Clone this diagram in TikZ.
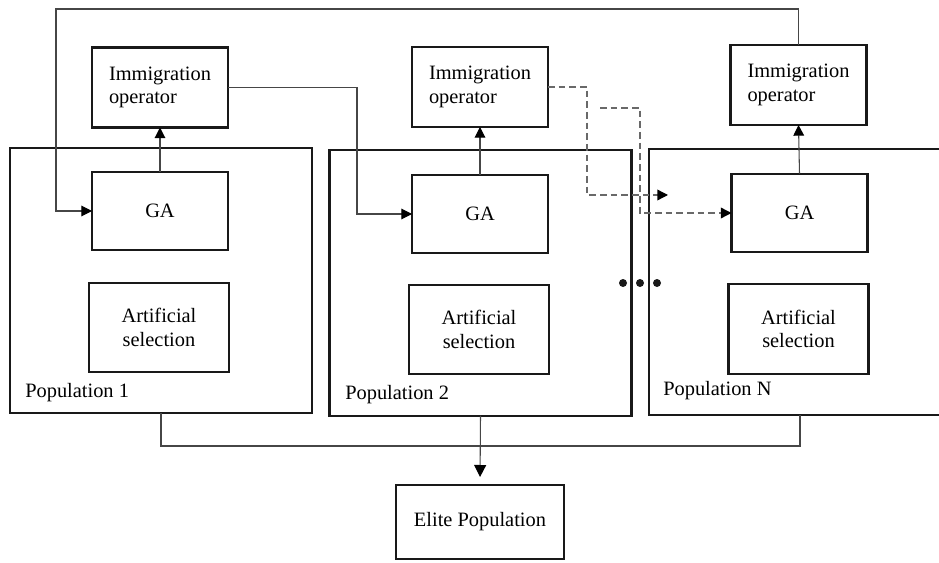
\documentclass[tikz,border=0pt]{standalone}
\usepackage{fontspec}
\setmainfont{Liberation Serif}
\usetikzlibrary{arrows.meta}
\definecolor{wire}{RGB}{70, 70, 70}
\definecolor{dashwire}{RGB}{105, 105, 105}
\definecolor{boxline}{RGB}{25, 25, 25}

\begin{document}
\begin{tikzpicture}[x=0.75pt, y=-0.75pt,
    every node/.style={font=\fontsize{15.3pt}{17.5pt}\selectfont},
    block/.style={draw=boxline, line width=1.7pt, inner sep=0pt, outer sep=0pt},
    opbox/.style={block, minimum width=102pt, minimum height=60pt, align=left},
    gabox/.style={block, minimum width=102pt, minimum height=59pt},
    selbox/.style={block, minimum width=105pt, minimum height=67pt, align=center},
    popbox/.style={block, minimum width=226.5pt, minimum height=199pt},
    poplabel/.style={anchor=base west, inner sep=0pt},
    link/.style={draw=wire, line width=0.8pt},
    arrow/.style={link, -{Triangle[length=8pt, width=8pt, color=black]}},
    dlink/.style={draw=dashwire, line width=1pt, dash pattern=on 5pt off 3pt, -{Triangle[length=8pt, width=8pt, color=black]}}]
            \useasboundingbox (0,0) rectangle (939,563);
            % populations
            \node[popbox]   (pop1) at (161.0, 280.5) {};
            \node[popbox]   (pop2) at (480.5, 283.0) {};
            \node[popbox]   (popN) at (800.0, 282.0) {};
            \node[poplabel] (lab1) at ( 25, 397) {Population 1};
            \node[poplabel] (lab2) at (345, 399) {Population 2};
            \node[poplabel] (labN) at (663, 395) {Population N};
            % operators
            \node[opbox]    (imm1) at (160.0,  87.5) {Immigration\\operator};
            \node[opbox]    (imm2) at (480.0,  87.0) {Immigration\\operator};
            \node[opbox]    (immN) at (798.5,  85.0) {Immigration\\operator};
            \node[gabox]    (ga1)  at (160.0, 211.0) {GA};
            \node[gabox]    (ga2)  at (480.0, 214.0) {GA};
            \node[gabox]    (gaN)  at (799.5, 213.0) {GA};
            \node[selbox]   (sel1) at (159.0, 327.5) {Artificial\\selection};
            \node[selbox]   (sel2) at (479.0, 329.5) {Artificial\\selection};
            \node[selbox]   (selN) at (798.5, 329.0) {Artificial\\selection};
            \node[block, minimum width=126pt, minimum height=55.5pt] (elite) at (480, 522) {Elite Population};
            % GA to operator
            \draw[arrow] (ga1.north) -- (imm1.south);
            \draw[arrow] (ga2.north) -- (imm2.south);
            \draw[arrow] (gaN.north) -- (immN.south);
            % migration
            \draw[arrow] (immN.north) |- (56,9) |- (ga1.west);
            \draw[arrow] (imm1.east) -| (357,150) |- (ga2.west);
            \coordinate (d1) at (668, 195);
            \coordinate (d2) at (600, 108);
            \draw[dlink] (imm2.east) -| (587,150) |- (d1);
            \draw[dlink] (d2) -| (640,160) |- (gaN.west);
            \foreach \x in {623, 640, 657} \fill[boxline] (\x, 283) circle (3pt);
            % elite
            \draw[link] (pop1.south) |- (480,446) -| (popN.south);
            \draw[arrow, shorten >=6pt, -{Triangle[length=9pt, width=9pt, color=black]}] (pop2.south) -- (elite.north);
        \end{tikzpicture}
\end{document}
